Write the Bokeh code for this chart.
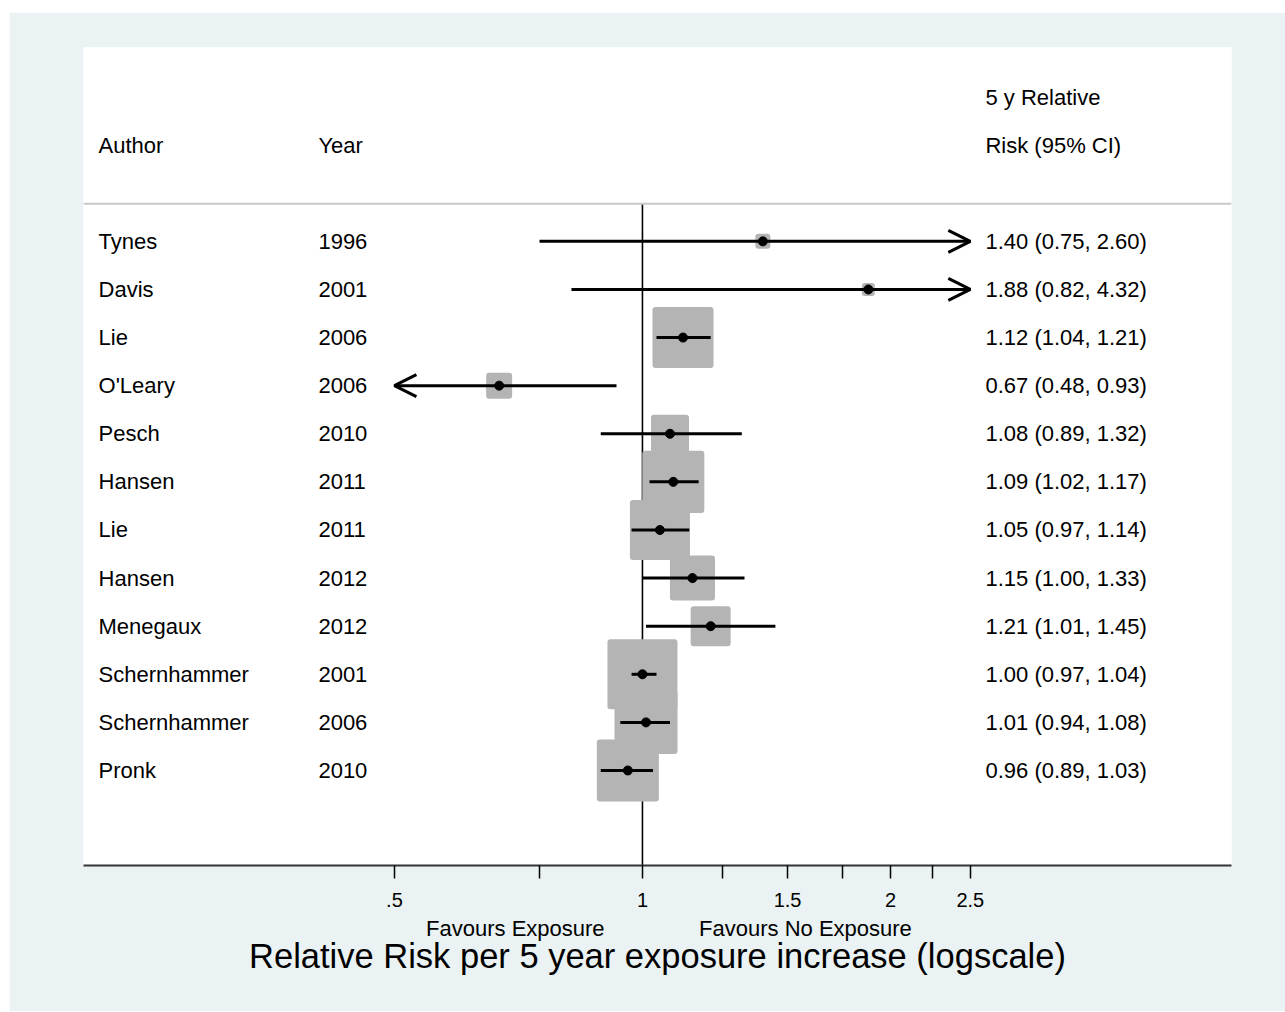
import numpy as np
from bokeh.plotting import figure
from bokeh.models import (ColumnDataSource, FixedTicker, Span, Arrow, OpenHead,
                          LogAxis, Spacer)
from bokeh.layouts import column, row
from bokeh.core.properties import value
from bokeh.embed import file_html
from bokeh.resources import INLINE

# ---------------- data ----------------
authors = ["Tynes", "Davis", "Lie", "O'Leary", "Pesch", "Hansen", "Lie",
           "Hansen", "Menegaux", "Schernhammer", "Schernhammer", "Pronk"]
years = ["1996", "2001", "2006", "2006", "2010", "2011", "2011",
         "2012", "2012", "2001", "2006", "2010"]
rr = [1.40, 1.88, 1.12, 0.67, 1.08, 1.09, 1.05, 1.15, 1.21, 1.00, 1.01, 0.96]
ci_low = [0.75, 0.82, 1.04, 0.48, 0.89, 1.02, 0.97, 1.00, 1.01, 0.97, 0.94, 0.89]
ci_high = [2.60, 4.32, 1.21, 0.93, 1.32, 1.17, 1.14, 1.33, 1.45, 1.04, 1.08, 1.03]
weights = [0.75, 0.56, 12.40, 2.25, 4.81, 12.81, 11.99, 6.75, 5.33, 16.32, 13.22, 12.81]

tick_values = [0.5, 1, 1.5, 2, 2.5]
tick_labels = [".5", "1", "1.5", "2", "2.5"]
minor_tick_values = [0.75, 1.25, 1.75, 2.25]

header_author = "Author"
header_year = "Year"
header_rr = ["5 y Relative", "Risk (95% CI)"]
favour_labels = ["Favours Exposure", "Favours No Exposure"]
favour_positions = [0.701, 1.577]
x_title = "Relative Risk per 5 year exposure increase (logscale)"

# ---------------- layout constants ----------------
FONT = "Liberation Sans"
BG = "#eaf2f3"
BOX_COLOR = "#b4b4b4"
BOX_SCALE = 17.33
AX_MIN, AX_MAX = tick_values[0], tick_values[-1]
X_AUTHOR, X_YEAR, X_RR = 0.2187, 0.4043, 2.608
SEP_Y = 12.78
Y0, Y1 = -0.975, 16.03

n = len(authors)
ys = list(range(n, 0, -1))
rr_text = [f"{r:.2f} ({l:.2f}, {h:.2f})" for r, l, h in zip(rr, ci_low, ci_high)]
sides = [BOX_SCALE * np.sqrt(w) for w in weights]

src = ColumnDataSource(dict(
    y=ys, rr=rr, side=sides, author=authors, year=years, rrtxt=rr_text,
    xa=[X_AUTHOR] * n, xy=[X_YEAR] * n, xr=[X_RR] * n,
))

p = figure(width=1276, height=999, x_axis_type="log",
           x_range=(0.2097, 5.187), y_range=(Y0, Y1),
           y_axis_location=None, output_backend="svg", toolbar_location=None,
           min_border_left=74, min_border_right=54, min_border_top=35,
           min_border_bottom=146)
p.xgrid.visible = False
p.ygrid.visible = False
p.outline_line_color = None
p.border_fill_color = BG
p.background_fill_color = "white"

# separator and null line
p.add_layout(Span(location=SEP_Y, dimension="width", line_color="#c8c8c8", line_width=2))
p.segment(x0=[1], y0=[Y0], x1=[1], y1=[SEP_Y], line_color="black", line_width=1.6)

# boxes
try:
    p.rect(x="rr", y="y", width="side", height="side", width_units="screen",
           height_units="screen", fill_color=BOX_COLOR, line_color=None,
           border_radius=3, source=src)
except Exception:
    p.rect(x="rr", y="y", width="side", height="side", width_units="screen",
           height_units="screen", fill_color=BOX_COLOR, line_color=None, source=src)

# CI lines
seg = dict(x0=[], x1=[], y=[])
right = dict(xs=[], xe=[], y=[])
left = dict(xs=[], xe=[], y=[])
for y, l, h in zip(ys, ci_low, ci_high):
    if h > AX_MAX:
        right["xs"].append(max(l, AX_MIN)); right["xe"].append(AX_MAX); right["y"].append(y)
    elif l < AX_MIN:
        left["xs"].append(h); left["xe"].append(AX_MIN); left["y"].append(y)
    else:
        seg["x0"].append(l); seg["x1"].append(h); seg["y"].append(y)

p.segment(x0="x0", y0="y", x1="x1", y1="y", line_color="black", line_width=3,
          source=ColumnDataSource(seg))
for d in (right, left):
    if d["y"]:
        p.add_layout(Arrow(end=OpenHead(size=22, line_width=3, line_color="black"),
                           x_start="xs", y_start="y", x_end="xe", y_end="y",
                           line_width=3, line_color="black",
                           source=ColumnDataSource(d)))

# point estimates
p.scatter(x="rr", y="y", size=9, marker="circle", fill_color="black",
          line_color="black", source=src)

# text columns
tk = dict(text_font=value(FONT), text_font_size="22px", text_baseline="middle",
          text_align="left", text_color="black")
p.text(x="xa", y="y", text="author", source=src, **tk)
p.text(x="xy", y="y", text="year", source=src, **tk)
p.text(x="xr", y="y", text="rrtxt", source=src, **tk)
p.text(x=[X_AUTHOR, X_YEAR, X_RR, X_RR], y=[14, 14, 15, 14],
       text=[header_author, header_year, header_rr[0], header_rr[1]], **tk)

# main axis
ax = p.xaxis[0]
ax.ticker = FixedTicker(ticks=tick_values, minor_ticks=minor_tick_values)
ax.major_label_overrides = dict(zip(tick_values, tick_labels))
ax.major_tick_in = 0
ax.major_tick_out = 13
ax.minor_tick_in = 0
ax.minor_tick_out = 13
ax.major_tick_line_width = 1.5
ax.minor_tick_line_width = 1.5
ax.major_tick_line_color = "black"
ax.minor_tick_line_color = "black"
ax.axis_line_color = "#333333"
ax.axis_line_width = 2
ax.major_label_text_font = FONT
ax.major_label_text_font_size = "20px"
ax.major_label_text_color = "black"
ax.major_label_standoff = 14

# second axis: "Favours" labels and the axis title
ax2 = LogAxis(ticker=FixedTicker(ticks=favour_positions, minor_ticks=[]),
              major_label_overrides=dict(zip(favour_positions, favour_labels)),
              axis_line_color=None, major_tick_line_color=None,
              minor_tick_line_color=None, major_tick_in=0, major_tick_out=0,
              minor_tick_in=0, minor_tick_out=0,
              major_label_standoff=6, major_label_text_font=FONT,
              major_label_text_font_size="22px", major_label_text_color="black",
              axis_label=x_title, axis_label_text_font=FONT,
              axis_label_text_font_size="34.5px", axis_label_text_font_style="normal",
              axis_label_text_color="black", axis_label_standoff=-7)
p.add_layout(ax2, "below")

layout = column(Spacer(height=12), row(Spacer(width=9), p))
open("out.html", "w").write(file_html(layout, INLINE))
